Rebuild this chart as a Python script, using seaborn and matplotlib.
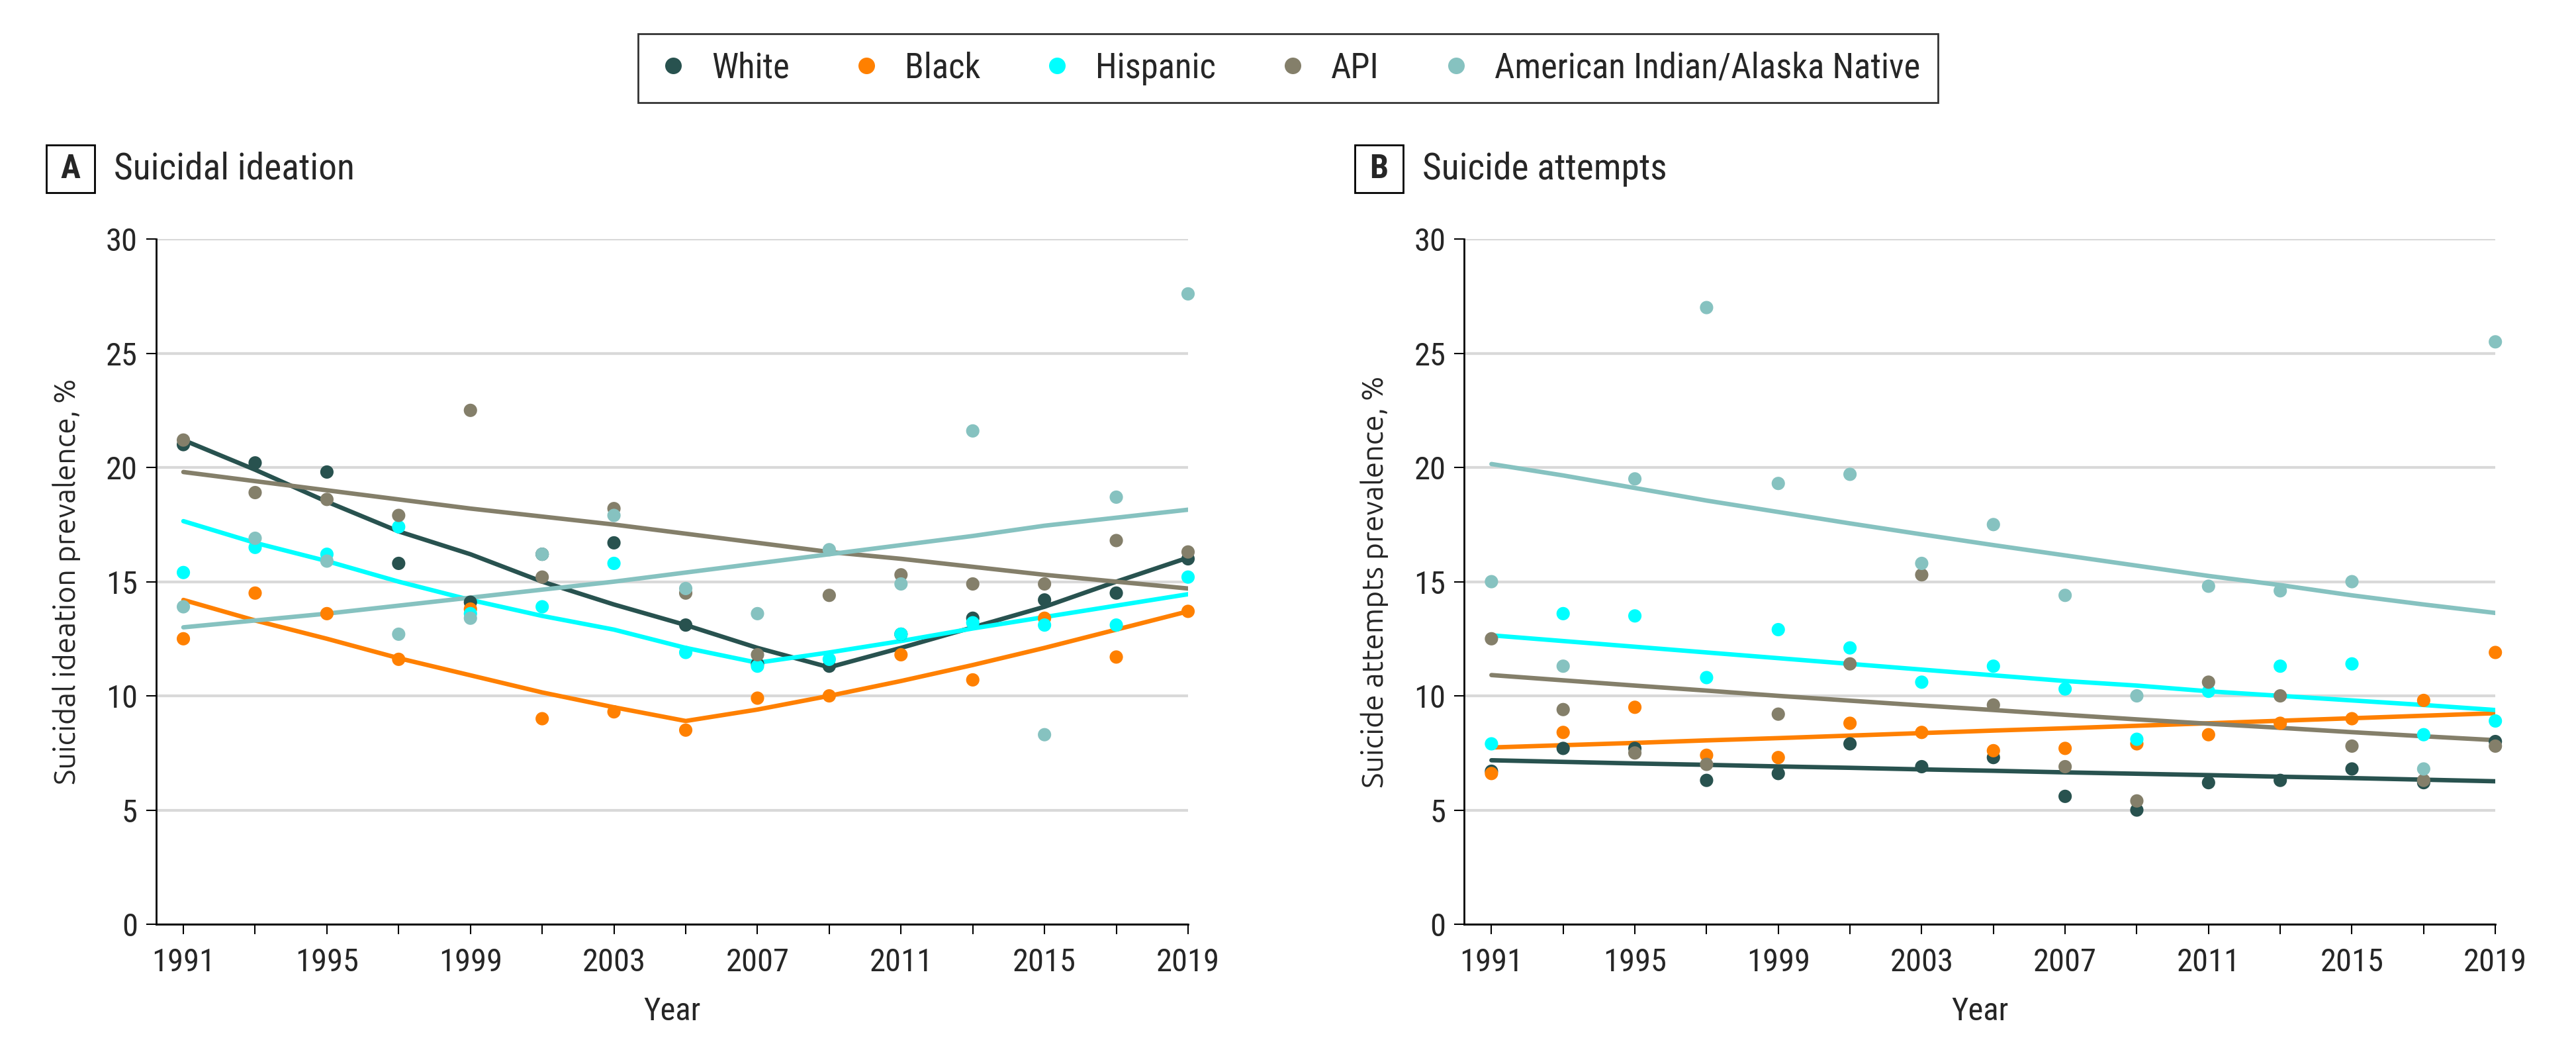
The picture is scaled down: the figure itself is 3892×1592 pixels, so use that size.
import numpy as np
import pandas as pd
import matplotlib.pyplot as plt
from matplotlib.patches import Rectangle
import seaborn as sns

sns.set_style('white')
COND = ['Roboto Condensed', 'DejaVu Sans']
plt.rcParams['font.family'] = COND

years = list(range(1991, 2020, 2))
groups = ['White', 'Black', 'Hispanic', 'API', 'American Indian/Alaska Native']
colors = ['#28524F', '#FF8000', '#00FFFF', '#847F6A', '#86C2C0']

# panel A: suicidal ideation, observed prevalence (%)
ide_white = [21.0, 20.2, 19.8, 15.8, 14.1, 16.2, 16.7, 13.1, 11.4, 11.3, 12.7, 13.4, 14.2, 14.5, 16.0]
ide_black = [12.5, 14.5, 13.6, 11.6, 13.8, 9.0, 9.3, 8.5, 9.9, 10.0, 11.8, 10.7, 13.4, 11.7, 13.7]
ide_hisp = [15.4, 16.5, 16.2, 17.4, 13.6, 13.9, 15.8, 11.9, 11.3, 11.6, 12.7, 13.2, 13.1, 13.1, 15.2]
ide_api = [21.2, 18.9, 18.6, 17.9, 22.5, 15.2, 18.2, 14.5, 11.8, 14.4, 15.3, 14.9, 14.9, 16.8, 16.3]
ide_aian = [13.9, 16.9, 15.9, 12.7, 13.4, 16.2, 17.9, 14.7, 13.6, 16.4, 14.9, 21.6, 8.3, 18.7, 27.6]

# panel A: fitted trends
ide_white_fit = [21.2, 19.9, 18.5, 17.2, 16.2, 15.0, 14.0, 13.1, 12.1, 11.25, 12.1, 13.0, 13.9, 15.0, 16.05]
ide_black_fit = [14.2, 13.3, 12.5, 11.65, 10.9, 10.15, 9.5, 8.9, 9.4, 10.0, 10.65, 11.35, 12.1, 12.9, 13.7]
ide_hisp_fit = [17.65, 16.7, 15.9, 15.0, 14.2, 13.5, 12.9, 12.1, 11.45, 11.9, 12.4, 12.95, 13.45, 13.95, 14.45]
ide_api_fit = [19.8, 19.4, 19.0, 18.6, 18.2, 17.85, 17.5, 17.1, 16.7, 16.3, 16.0, 15.65, 15.3, 15.0, 14.7]
ide_aian_fit = [13.0, 13.3, 13.6, 13.95, 14.3, 14.65, 15.0, 15.4, 15.8, 16.2, 16.6, 17.0, 17.45, 17.8, 18.15]

# panel B: suicide attempts, observed prevalence (%)
att_white = [6.7, 7.7, 7.7, 6.3, 6.6, 7.9, 6.9, 7.3, 5.6, 5.0, 6.2, 6.3, 6.8, 6.2, 8.0]
att_black = [6.6, 8.4, 9.5, 7.4, 7.3, 8.8, 8.4, 7.6, 7.7, 7.9, 8.3, 8.8, 9.0, 9.8, 11.9]
att_hisp = [7.9, 13.6, 13.5, 10.8, 12.9, 12.1, 10.6, 11.3, 10.3, 8.1, 10.2, 11.3, 11.4, 8.3, 8.9]
att_api = [12.5, 9.4, 7.5, 7.0, 9.2, 11.4, 15.3, 9.6, 6.9, 5.4, 10.6, 10.0, 7.8, 6.3, 7.8]
att_aian = [15.0, 11.3, 19.5, 27.0, 19.3, 19.7, 15.8, 17.5, 14.4, 10.0, 14.8, 14.6, 15.0, 6.8, 25.5]

# panel B: fitted trends
att_white_fit = [7.18, 7.11, 7.04, 6.98, 6.91, 6.85, 6.78, 6.72, 6.65, 6.59, 6.53, 6.46, 6.4, 6.33, 6.26]
att_black_fit = [7.74, 7.84, 7.94, 8.05, 8.15, 8.26, 8.37, 8.48, 8.58, 8.69, 8.8, 8.91, 9.02, 9.13, 9.24]
att_hisp_fit = [12.65, 12.4, 12.15, 11.9, 11.65, 11.4, 11.15, 10.9, 10.65, 10.45, 10.2, 10.0, 9.8, 9.6, 9.38]
att_api_fit = [10.91, 10.68, 10.45, 10.23, 10.0, 9.79, 9.58, 9.38, 9.17, 8.97, 8.78, 8.6, 8.41, 8.23, 8.06]
att_aian_fit = [20.15, 19.65, 19.1, 18.55, 18.05, 17.55, 17.07, 16.6, 16.15, 15.7, 15.25, 14.85, 14.4, 14.0, 13.63]


def long_df(obs, fit):
    rows = []
    for g, o, f in zip(groups, obs, fit):
        for y, ov, fv in zip(years, o, f):
            rows.append({'Year': y, 'Group': g, 'obs': ov, 'fit': fv})
    return pd.DataFrame(rows)


dfA = long_df([ide_white, ide_black, ide_hisp, ide_api, ide_aian],
              [ide_white_fit, ide_black_fit, ide_hisp_fit, ide_api_fit, ide_aian_fit])
dfB = long_df([att_white, att_black, att_hisp, att_api, att_aian],
              [att_white_fit, att_black_fit, att_hisp_fit, att_api_fit, att_aian_fit])
pal = dict(zip(groups, colors))

fig = plt.figure(figsize=(38.92, 15.92), dpi=100)
axA = fig.add_axes([0.0606, 0.1231, 0.4006, 0.6501])
axB = fig.add_axes([0.5684, 0.1231, 0.4003, 0.6501])

for ax, df, ylab in [(axA, dfA, 'Suicidal ideation prevalence, %'),
                     (axB, dfB, 'Suicide attempts prevalence, %')]:
    sns.lineplot(data=df, x='Year', y='fit', hue='Group', palette=pal, ax=ax,
                 linewidth=4.8, legend=False, zorder=3)
    sns.scatterplot(data=df, x='Year', y='obs', hue='Group', palette=pal, ax=ax,
                    s=210, linewidth=0, legend=False, zorder=4, clip_on=False)
    ax.set_xlim(1990.24, 2019)
    ax.set_ylim(0, 30)
    ax.set_yticks(range(0, 31, 5))
    ax.set_xticks(years)
    ax.set_xticklabels([str(y) if (y - 1991) % 4 == 0 else '' for y in years])
    ax.yaxis.grid(True, color='#D9D9D9', linewidth=3)
    ax.xaxis.grid(False)
    ax.set_axisbelow(True)
    for s in ['top', 'right']:
        ax.spines[s].set_visible(False)
    for s in ['left', 'bottom']:
        ax.spines[s].set_color('black')
        ax.spines[s].set_linewidth(2)
    ax.tick_params(axis='both', which='both', length=11, width=1.5, color='black',
                   labelsize=35, direction='out')
    ax.tick_params(axis='y', pad=9, left=True)
    ax.tick_params(axis='x', pad=14, bottom=True)
    ax.set_xlabel('Year', fontsize=35, labelpad=20)
    ax.set_ylabel(ylab, fontsize=32, family=['Ubuntu Sans', 'DejaVu Sans'])
    ax.yaxis.set_label_coords(-0.073, 0.5)

# panel headers
for bx, tx, letter, title in [(0.0180, 0.0442, 'A', 'Suicidal ideation'),
                              (0.5259, 0.5522, 'B', 'Suicide attempts')]:
    fig.add_artist(Rectangle((bx, 0.8172), 0.0187, 0.0452, transform=fig.transFigure,
                             fill=False, edgecolor='black', linewidth=2))
    fig.text(bx + 0.0187 / 2, 0.8398, letter, ha='center', va='center',
             fontsize=36, fontweight='bold')
    fig.text(tx, 0.8398, title, ha='left', va='center', fontsize=40)

# legend
handles = [plt.Line2D([], [], marker='o', linestyle='', markersize=18,
                      markerfacecolor=c, markeredgewidth=0) for c in colors]
leg = fig.legend(handles, groups, loc='center', bbox_to_anchor=(0.5, 0.9353), ncol=5,
                 fontsize=38, frameon=True, fancybox=False, edgecolor='black',
                 handlelength=1.0, handletextpad=0.6, columnspacing=1.7,
                 borderpad=0.5, borderaxespad=0)
leg.get_frame().set_linewidth(2)

fig.savefig('out.png', dpi=100, facecolor='white')
